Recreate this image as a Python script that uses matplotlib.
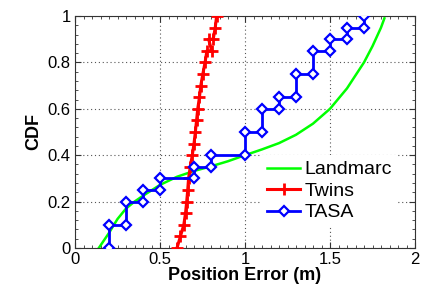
import matplotlib
matplotlib.use("Agg")
import matplotlib.pyplot as plt
from matplotlib.ticker import MultipleLocator

plt.rcParams['font.family'] = ['Liberation Sans', 'DejaVu Sans']

# Landmarc (smooth CDF curve)
landmarc_x = [0.14, 0.2, 0.25, 0.3, 0.35, 0.4, 0.5, 0.6, 0.7, 0.8, 0.9, 1.0, 1.1, 1.2, 1.3, 1.4, 1.5, 1.6, 1.7, 1.75, 1.8, 1.82]
landmarc_y = [0.0, 0.065, 0.125, 0.17, 0.2, 0.225, 0.272, 0.307, 0.332, 0.352, 0.374, 0.40, 0.425, 0.452, 0.488, 0.536, 0.60, 0.688, 0.80, 0.87, 0.95, 0.99]

# Twins
twins_x = [0.60, 0.62, 0.64, 0.65, 0.657, 0.663, 0.668, 0.678, 0.69, 0.70, 0.708, 0.715, 0.722, 0.732, 0.74, 0.752, 0.765,
           0.776, 0.804, 0.786, 0.813, 0.825, 0.833]
twins_y = [0.0, 0.05, 0.10, 0.15, 0.20, 0.25, 0.30, 0.35, 0.40, 0.45, 0.50, 0.55, 0.60, 0.65, 0.70, 0.75, 0.80,
           0.85, 0.85, 0.90, 0.90, 0.95, 1.0]

# TASA (staircase)
tasa_x = [0.2, 0.2, 0.3, 0.3, 0.4, 0.4, 0.5, 0.5, 0.7, 0.7, 0.8, 0.8, 1.0, 1.0, 1.1, 1.1, 1.2, 1.2, 1.3, 1.3,
          1.4, 1.4, 1.5, 1.5, 1.6, 1.6, 1.7, 1.7]
tasa_y = [0.0, 0.1, 0.1, 0.2, 0.2, 0.25, 0.25, 0.3, 0.3, 0.35, 0.35, 0.4, 0.4, 0.5, 0.5, 0.6, 0.6, 0.65, 0.65, 0.75,
          0.75, 0.85, 0.85, 0.9, 0.9, 0.95, 0.95, 1.0]

xticks = [0, 0.5, 1, 1.5, 2]
xtick_labels = ['0', '0.5', '1', '1.5', '2']
yticks = [0, 0.2, 0.4, 0.6, 0.8, 1]
ytick_labels = ['0', '0.2', '0.4', '0.6', '0.8', '1']

fig = plt.figure(figsize=(4.22, 2.93), dpi=100)
ax = fig.add_axes([75/422, 45/293, 340/422, 232/293])

ax.plot(landmarc_x, landmarc_y, color=(0, 1, 0), lw=1.8, label='Landmarc', zorder=3)
ax.plot(twins_x, twins_y, color=(1, 0, 0), lw=2.2, marker='+', ms=8, mew=2.0, label='Twins', zorder=4)
ax.plot(tasa_x, tasa_y, color=(0, 0, 1), lw=2.0, marker='D', ms=5.5, mew=1.6, mfc='white', mec=(0, 0, 1),
        label='TASA', zorder=5)

ax.set_xlim(0, 2)
ax.set_ylim(0, 1)
ax.set_xticks(xticks)
ax.set_xticklabels(xtick_labels)
ax.set_yticks(yticks)
ax.set_yticklabels(ytick_labels)
ax.xaxis.set_minor_locator(MultipleLocator(0.05))
ax.yaxis.set_minor_locator(MultipleLocator(0.04))
ax.tick_params(which='both', direction='in', top=True, right=True, labelsize=12, color='#333333')
ax.tick_params(which='major', length=4, pad=3)
ax.tick_params(which='minor', length=2)
ax.grid(True, which='major', linestyle=(0, (1, 2.5)), color='#555555', lw=0.8)
for s in ax.spines.values():
    s.set_color('#333333')
    s.set_linewidth(0.8)

ax.set_xlabel('Position Error (m)', fontsize=13, fontweight='bold', labelpad=0)
ax.set_ylabel('CDF', fontsize=13, fontweight='bold', labelpad=4)

leg = ax.legend(loc='center left', bbox_to_anchor=(0.52, 0.245), fontsize=14, frameon=True,
                edgecolor='none', facecolor='white', framealpha=1, fancybox=False,
                handlelength=1.7, handletextpad=0.2, labelspacing=0.2, borderpad=0.3)
leg.set_zorder(10)

fig.savefig('out.png', dpi=100)
